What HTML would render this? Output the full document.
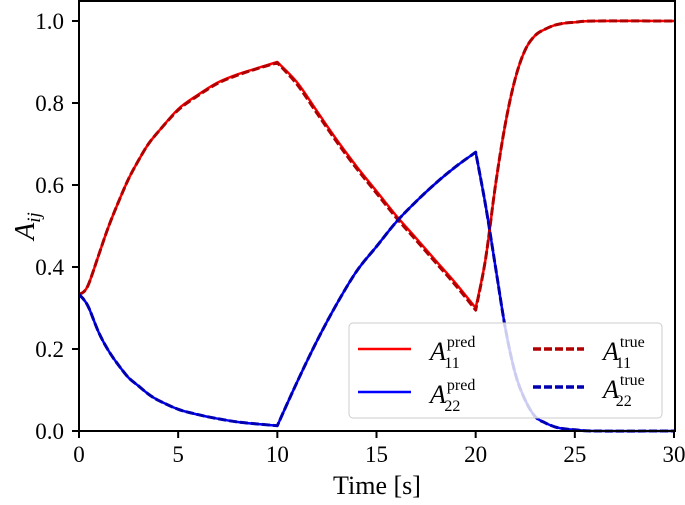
<!DOCTYPE html>
<html><head><meta charset="utf-8"><style>
body{margin:0;background:#fff}
svg text{font-family:"Liberation Serif",serif;fill:#000}
</style></head><body>
<svg id="chart" width="685" height="500" viewBox="0 0 685 500">
<g id="series"></g>
<rect x="79" y="1" width="596" height="430" fill="none" stroke="#000" stroke-width="2"/>
<g id="axes"></g>
<text x="377" y="494" font-size="26" text-anchor="middle">Time [s]</text>
<text transform="translate(34,226) rotate(-90)" font-size="28" font-style="italic" text-anchor="middle">A<tspan font-size="19" dy="6">ij</tspan></text>
<g id="legend">
<rect x="349" y="323" width="313" height="95" rx="4" fill="#fff" fill-opacity="0.8" stroke="#ccc"/>
<line x1="358" y1="349" x2="411" y2="349" stroke="#f00" stroke-width="2.5"/>
<text x="430" y="360" font-size="26" font-style="italic">A<tspan font-size="16" font-style="normal" dx="1" dy="-13">pred</tspan><tspan font-size="16" font-style="normal" dx="-31" dy="21">11</tspan></text>
<line x1="358" y1="392" x2="411" y2="392" stroke="#00f" stroke-width="2.5"/>
<text x="430" y="403" font-size="26" font-style="italic">A<tspan font-size="16" font-style="normal" dx="1" dy="-13">pred</tspan><tspan font-size="16" font-style="normal" dx="-31" dy="21">22</tspan></text>
<line x1="533" y1="349" x2="584" y2="349" stroke="#b00000" stroke-width="3.5" stroke-dasharray="8,3"/>
<text x="603" y="360" font-size="26" font-style="italic">A<tspan font-size="16" font-style="normal" dx="1" dy="-13">true</tspan><tspan font-size="16" font-style="normal" dx="-29" dy="21">11</tspan></text>
<line x1="533" y1="387" x2="584" y2="387" stroke="#0000b0" stroke-width="3.5" stroke-dasharray="8,3"/>
<text x="603" y="398" font-size="26" font-style="italic">A<tspan font-size="16" font-style="normal" dx="1" dy="-13">true</tspan><tspan font-size="16" font-style="normal" dx="-29" dy="21">22</tspan></text>
</g>
</svg>
<script>
const times=[0,0.25,0.5,1,1.5,2,2.5,3,3.5,4,5,6,7,8,9,10,11,12,13,14,15,16,17,18,19,20,20.5,21,21.5,22,22.5,23,23.5,24,24.5,25,26,30];
const a11Pred=[0.333,0.34,0.36,0.43,0.5,0.56,0.615,0.66,0.70,0.73,0.785,0.82,0.85,0.87,0.885,0.9,0.85,0.78,0.71,0.645,0.585,0.525,0.47,0.415,0.36,0.3,0.42,0.6,0.75,0.86,0.93,0.965,0.98,0.99,0.995,0.997,1,1];
const a11True=[0.333,0.34,0.36,0.43,0.5,0.56,0.615,0.66,0.70,0.73,0.783,0.818,0.848,0.868,0.884,0.898,0.845,0.775,0.705,0.64,0.58,0.52,0.465,0.41,0.355,0.295,0.42,0.6,0.75,0.86,0.93,0.965,0.98,0.99,0.995,0.997,1,1];
const a22Pred=[0.333,0.32,0.3,0.24,0.195,0.16,0.13,0.11,0.09,0.075,0.053,0.04,0.03,0.022,0.017,0.013,0.12,0.22,0.31,0.39,0.45,0.51,0.56,0.605,0.645,0.68,0.55,0.4,0.25,0.14,0.075,0.035,0.02,0.01,0.005,0.003,0,0];
const a22True=[0.333,0.32,0.3,0.24,0.195,0.16,0.13,0.11,0.09,0.075,0.053,0.04,0.03,0.022,0.017,0.013,0.12,0.22,0.31,0.39,0.45,0.51,0.56,0.605,0.645,0.68,0.55,0.4,0.25,0.14,0.075,0.035,0.02,0.01,0.005,0.003,0,0];
const kinkTimes=[10,20];
const xTicks=[0,5,10,15,20,25,30];
const yTicks=[0,0.2,0.4,0.6,0.8,1.0];
const NS="http://www.w3.org/2000/svg";
const xs=t=>79+t*(595/30);
const ys=v=>431-v*410;
const series=document.getElementById('series');
function smoothPath(vals){
  const pts=vals.map((v,i)=>[xs(times[i]),ys(v)]);
  const kink=i=>kinkTimes.includes(times[i]);
  let d='M'+pts[0][0].toFixed(1)+','+pts[0][1].toFixed(1);
  for(let i=0;i<pts.length-1;i++){
    const p0=(i>0&&!kink(i))?pts[i-1]:pts[i];
    const p1=pts[i],p2=pts[i+1];
    const p3=(i+2<pts.length&&!kink(i+1))?pts[i+2]:pts[i+1];
    const c1=[p1[0]+(p2[0]-p0[0])/6,p1[1]+(p2[1]-p0[1])/6];
    const c2=[p2[0]-(p3[0]-p1[0])/6,p2[1]-(p3[1]-p1[1])/6];
    d+='C'+c1[0].toFixed(1)+','+c1[1].toFixed(1)+' '+c2[0].toFixed(1)+','+c2[1].toFixed(1)+' '+p2[0].toFixed(1)+','+p2[1].toFixed(1);
  }
  return d;
}
function addLine(vals,color,w,dash,name){
  const p=document.createElementNS(NS,'path');
  p.setAttribute('d',smoothPath(vals));
  p.setAttribute('fill','none');p.setAttribute('stroke',color);p.setAttribute('stroke-width',w);
  p.setAttribute('stroke-linejoin','round');
  if(dash)p.setAttribute('stroke-dasharray',dash);
  
  
  series.appendChild(p);
}
addLine(a11Pred,'#f00',2.5,null,'a11-pred-line');
addLine(a22Pred,'#00f',2.5,null,'a22-pred-line');
addLine(a11True,'#b00000',3,'8,3','a11-true-line');
addLine(a22True,'#0000b0',3,'8,3','a22-true-line');
const axes=document.getElementById('axes');
xTicks.forEach(t=>{
  const l=document.createElementNS(NS,'line');
  l.setAttribute('x1',xs(t));l.setAttribute('x2',xs(t));l.setAttribute('y1',431);l.setAttribute('y2',438);
  l.setAttribute('stroke','#000');l.setAttribute('stroke-width',2);
  
  
  axes.appendChild(l);
  const tx=document.createElementNS(NS,'text');
  tx.setAttribute('x',xs(t));tx.setAttribute('y',462);tx.setAttribute('font-size',23);tx.setAttribute('text-anchor','middle');
  tx.textContent=t;
  
  
  axes.appendChild(tx);
});
yTicks.forEach(v=>{
  const l=document.createElementNS(NS,'line');
  l.setAttribute('x1',72);l.setAttribute('x2',79);l.setAttribute('y1',ys(v));l.setAttribute('y2',ys(v));
  l.setAttribute('stroke','#000');l.setAttribute('stroke-width',2);
  
  
  axes.appendChild(l);
  const tx=document.createElementNS(NS,'text');
  tx.setAttribute('x',64);tx.setAttribute('y',ys(v)+8);tx.setAttribute('font-size',23);tx.setAttribute('text-anchor','end');
  tx.textContent=v.toFixed(1);
  
  
  axes.appendChild(tx);
});
</script>
</body></html>
